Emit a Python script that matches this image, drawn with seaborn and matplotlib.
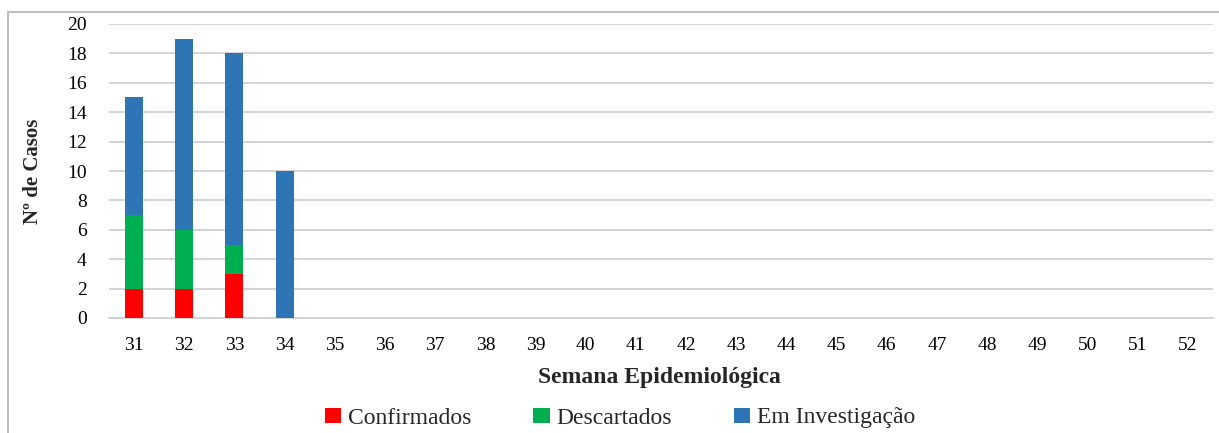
import pandas as pd
import matplotlib.pyplot as plt
import seaborn as sns
from matplotlib.patches import Rectangle

# Semanas epidemiologicas e casos por situacao
semanas = [str(s) for s in range(31, 53)]
confirmados = [2, 2, 3, 0] + [0] * 18
descartados = [5, 4, 2, 0] + [0] * 18
investigacao = [8, 13, 13, 10] + [0] * 18

cores = {'Confirmados': '#FF0000', 'Descartados': '#00B050', 'Em Investigação': '#2E75B6'}

df = pd.DataFrame({'Semana': semanas, 'Confirmados': confirmados,
                   'Descartados': descartados, 'Em Investigação': investigacao})
df['Conf_Desc'] = df['Confirmados'] + df['Descartados']
df['Total'] = df['Conf_Desc'] + df['Em Investigação']

sns.set_style('white')
plt.rcParams['font.family'] = ['Liberation Serif', 'DejaVu Serif']

fig = plt.figure(figsize=(12.19, 4.33), dpi=100)
ax = fig.add_axes([109 / 1219, 1 - 318 / 433, 1104 / 1219, 294 / 433])

# Barras empilhadas: desenha o total e sobrepoe as camadas de baixo
camadas = [('Total', 'Em Investigação'), ('Conf_Desc', 'Descartados'), ('Confirmados', 'Confirmados')]
for coluna, nome in camadas:
    sns.barplot(data=df, x='Semana', y=coluna, color=cores[nome], order=semanas,
                width=0.36, saturation=1, ax=ax, label=nome, zorder=3,
                linewidth=0, edgecolor='none')

ax.set_ylim(0, 20)
ax.set_yticks(range(0, 21, 2))
ax.set_xlim(-0.5, len(semanas) - 0.5)
ax.yaxis.grid(True, color='#D0D0D0', linewidth=1.3, zorder=0)
ax.set_axisbelow(True)
for lado in ['top', 'right', 'left']:
    ax.spines[lado].set_visible(False)
ax.spines['bottom'].set_color('#D0D0D0')
ax.spines['bottom'].set_linewidth(1.3)
ax.tick_params(axis='both', length=0, labelsize=14, colors='black')
ax.tick_params(axis='y', pad=16)
ax.tick_params(axis='x', pad=14)

ax.set_xlabel('Semana Epidemiológica', fontsize=17, fontweight='bold')
ax.set_ylabel('Nº de Casos', fontsize=15, fontweight='bold')
ax.xaxis.set_label_coords(0.499, -0.165)
ax.yaxis.set_label_coords(-0.060, 0.5)

handles, labels = ax.get_legend_handles_labels()
ordem = ['Confirmados', 'Descartados', 'Em Investigação']
hmap = dict(zip(labels, handles))
ax.legend([hmap[l] for l in ordem], ordem, loc='center', bbox_to_anchor=(620 / 1219, 1 - 418 / 433),
          bbox_transform=fig.transFigure, ncol=3, frameon=False, fontsize=17,
          handlelength=0.7, handleheight=0.6, handletextpad=0.3, columnspacing=2.6,
          borderpad=0)

# Moldura do grafico
fig.patches.append(Rectangle((8 / 1219, -0.1), 1.1, 1 - 12 / 433 + 0.1, transform=fig.transFigure,
                             fill=False, edgecolor='#BFBFBF', linewidth=1.5))

fig.savefig('out.png', dpi=100)
